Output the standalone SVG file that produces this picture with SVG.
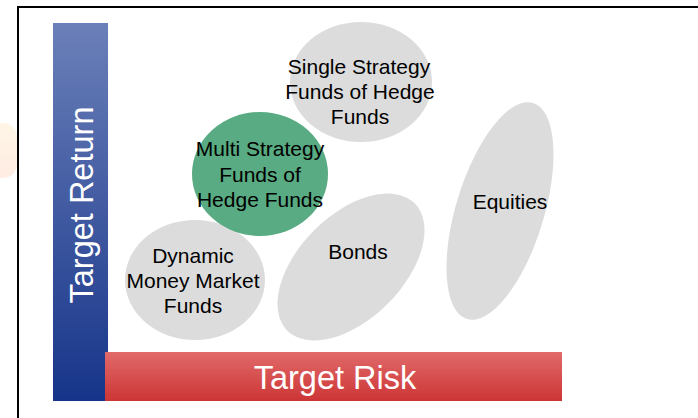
<svg xmlns="http://www.w3.org/2000/svg" width="698" height="418" viewBox="0 0 698 418">
  <style>
    .lbl { font-family: "Liberation Sans", Arial, sans-serif; font-size: 21px; fill: #000; text-anchor: middle; }
    .axis { font-family: "Liberation Sans", Arial, sans-serif; font-size: 32.5px; fill: #fff; text-anchor: middle; }
    .grey { fill: #dcdcdc; }
  </style>
  <defs>
    <linearGradient id="gBlue" x1="0" y1="0" x2="0" y2="1">
      <stop offset="0" stop-color="#6b80b9"/>
      <stop offset="1" stop-color="#163489"/>
    </linearGradient>
    <linearGradient id="gRed" x1="0" y1="0" x2="0" y2="1">
      <stop offset="0" stop-color="#e16a6a"/>
      <stop offset="1" stop-color="#cd3535"/>
    </linearGradient>
    <linearGradient id="gPeach" x1="0" y1="0" x2="0" y2="1">
      <stop offset="0" stop-color="#fff6e6"/>
      <stop offset="1" stop-color="#ffece2"/>
    </linearGradient>
  </defs>

  <rect width="698" height="418" fill="#fff"/>
  <!-- faint background mark at left edge -->
  <rect x="-30" y="123" width="47" height="55" rx="14" fill="url(#gPeach)"/>
  <!-- frame -->
  <rect x="18" y="7" width="700" height="430" fill="none" stroke="#000" stroke-width="2"/>

  <!-- axes -->
  <g id="axis-return">
    <rect x="53" y="23" width="55" height="378" fill="url(#gBlue)"/>
    <text class="axis" transform="translate(93,205) rotate(-90)">Target Return</text>
  </g>
  <g id="axis-risk">
    <rect x="105" y="352" width="457" height="49" fill="url(#gRed)"/>
    <text class="axis" x="335" y="389">Target Risk</text>
  </g>

  <!-- asset classes -->
  <g id="single-strategy">
    <ellipse class="grey" cx="361" cy="82" rx="71" ry="60"/>
    <text class="lbl" x="359" y="74">Single Strategy</text>
    <text class="lbl" x="360" y="99">Funds of Hedge</text>
    <text class="lbl" x="360" y="124">Funds</text>
  </g>
  <g id="dynamic-mm">
    <ellipse class="grey" cx="195" cy="280" rx="70" ry="60"/>
    <text class="lbl" x="193" y="263">Dynamic</text>
    <text class="lbl" x="193" y="288">Money Market</text>
    <text class="lbl" x="193" y="313">Funds</text>
  </g>
  <g id="bonds">
    <ellipse class="grey" cx="351" cy="267" rx="90" ry="52" transform="rotate(-45 351 267)"/>
    <text class="lbl" x="358" y="259">Bonds</text>
  </g>
  <g id="equities">
    <ellipse class="grey" cx="500" cy="211" rx="44" ry="113" transform="rotate(17 500 211)"/>
    <text class="lbl" x="510" y="209">Equities</text>
  </g>
  <g id="multi-strategy">
    <ellipse cx="260" cy="174" rx="68" ry="62" fill="#58ab82"/>
    <text class="lbl" x="260" y="156">Multi Strategy</text>
    <text class="lbl" x="260" y="182">Funds of</text>
    <text class="lbl" x="260" y="207">Hedge Funds</text>
  </g>

  <g id="connectors"/>
</svg>
